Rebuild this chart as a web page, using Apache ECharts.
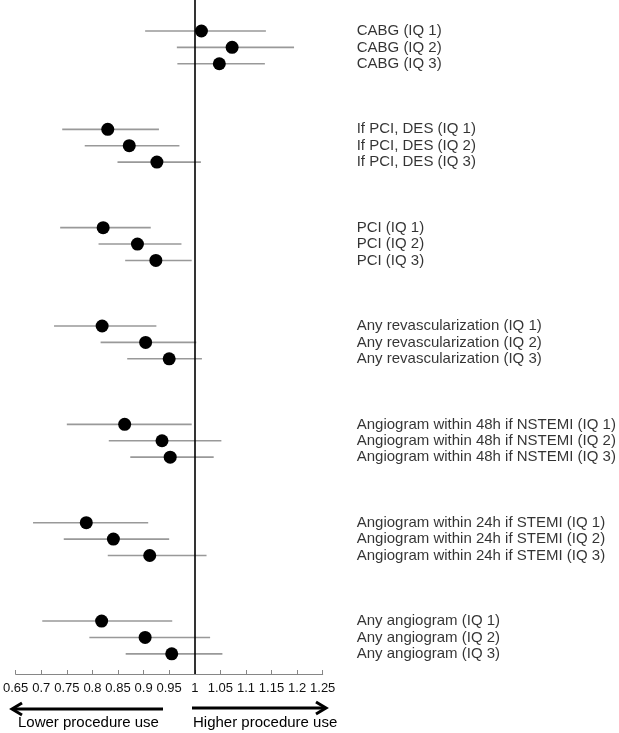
<!DOCTYPE html>
<html>
<head>
<meta charset="utf-8">
<script src="https://cdn.jsdelivr.net/npm/echarts@6/dist/echarts.min.js"></script>
<style>
  html, body { margin: 0; padding: 0; background: #fff; }
  #chart { width: 619px; height: 733px; }
</style>
</head>
<body>
<div id="chart"></div>
<script>
const categories = [
  'CABG (IQ 1)', 'CABG (IQ 2)', 'CABG (IQ 3)',
  'If PCI, DES (IQ 1)', 'If PCI, DES (IQ 2)', 'If PCI, DES (IQ 3)',
  'PCI (IQ 1)', 'PCI (IQ 2)', 'PCI (IQ 3)',
  'Any revascularization (IQ 1)', 'Any revascularization (IQ 2)', 'Any revascularization (IQ 3)',
  'Angiogram within 48h if NSTEMI (IQ 1)', 'Angiogram within 48h if NSTEMI (IQ 2)', 'Angiogram within 48h if NSTEMI (IQ 3)',
  'Angiogram within 24h if STEMI (IQ 1)', 'Angiogram within 24h if STEMI (IQ 2)', 'Angiogram within 24h if STEMI (IQ 3)',
  'Any angiogram (IQ 1)', 'Any angiogram (IQ 2)', 'Any angiogram (IQ 3)'
];
const estimates = [
  1.013, 1.073, 1.048,
  0.830, 0.872, 0.926,
  0.821, 0.888, 0.924,
  0.819, 0.904, 0.950,
  0.863, 0.936, 0.952,
  0.788, 0.841, 0.912,
  0.818, 0.903, 0.955
];
const lower = [
  0.903, 0.965, 0.966,
  0.741, 0.785, 0.849,
  0.737, 0.812, 0.864,
  0.725, 0.816, 0.868,
  0.750, 0.832, 0.874,
  0.684, 0.744, 0.830,
  0.702, 0.794, 0.865
];
const upper = [
  1.139, 1.194, 1.137,
  0.930, 0.970, 1.012,
  0.914, 0.974, 0.994,
  0.925, 1.003, 1.014,
  0.994, 1.052, 1.037,
  0.909, 0.950, 1.023,
  0.956, 1.030, 1.054
];
const xMin = 0.65, xMax = 1.25, xStep = 0.05;
const referenceValue = 1;
const arrowLabels = ['Lower procedure use', 'Higher procedure use'];

const FONT = 'Liberation Sans';
// each group of 3 rows is followed by 3 empty slots
const slot = i => Math.floor(i / 3) * 6 + (i % 3);

const chart = echarts.init(document.getElementById('chart'));
chart.setOption({
  animation: false,
  grid: { left: 12.3, right: 296.3, top: 0, bottom: 59, containLabel: false },
  xAxis: {
    type: 'value', min: xMin, max: xMax, interval: xStep, position: 'bottom',
    axisLine: { show: true, onZero: false, lineStyle: { color: '#868686', width: 1 } },
    axisTick: { show: true, inside: true, length: 4, lineStyle: { color: '#868686' } },
    axisLabel: { color: '#111', fontFamily: FONT, fontSize: 13, margin: 8, showMinLabel: true, showMaxLabel: true },
    splitLine: { show: false }
  },
  yAxis: {
    type: 'value', inverse: true, min: -1.89, max: 39.23,
    show: false, splitLine: { show: false }
  },
  series: [
    {
      type: 'custom',
      data: estimates.map((_, i) => [lower[i], upper[i], slot(i)]),
      encode: { x: [0, 1], y: 2 },
      renderItem: (params, api) => {
        const p1 = api.coord([api.value(0), api.value(2)]);
        const p2 = api.coord([api.value(1), api.value(2)]);
        return {
          type: 'line',
          shape: { x1: p1[0], y1: p1[1], x2: p2[0], y2: p2[1] },
          style: { stroke: '#999', lineWidth: 1.6 }
        };
      },
      z: 2
    },
    {
      type: 'scatter',
      data: estimates.map((v, i) => [v, slot(i)]),
      symbol: 'circle', symbolSize: 13,
      itemStyle: { color: '#000', opacity: 1 },
      z: 4,
      markLine: {
        silent: true, symbol: 'none',
        label: { show: false },
        lineStyle: { color: '#000', width: 1.6, type: 'solid', opacity: 1 },
        data: [{ xAxis: referenceValue }]
      }
    },
    {
      type: 'scatter',
      data: categories.map((c, i) => ({ value: [xMax, slot(i)], name: c })),
      symbolSize: 0,
      silent: true,
      label: {
        show: true, position: 'right', distance: 34, formatter: '{b}',
        color: '#000', fontFamily: FONT, fontSize: 15
      }
    }
  ],
  graphic: [
    { type: 'line', shape: { x1: 13, y1: 709, x2: 163, y2: 709 }, style: { stroke: '#000', lineWidth: 3 } },
    { type: 'polyline', shape: { points: [[22, 703], [12, 709], [22, 715]] }, style: { stroke: '#000', lineWidth: 3, fill: null } },
    { type: 'line', shape: { x1: 192, y1: 708, x2: 325, y2: 708 }, style: { stroke: '#000', lineWidth: 3 } },
    { type: 'polyline', shape: { points: [[316, 702], [326, 708], [316, 714]] }, style: { stroke: '#000', lineWidth: 3, fill: null } },
    { type: 'text', x: 18, y: 723, style: { text: arrowLabels[0], fill: '#000', font: '15px "' + FONT + '"', textVerticalAlign: 'middle' } },
    { type: 'text', x: 193, y: 723, style: { text: arrowLabels[1], fill: '#000', font: '15px "' + FONT + '"', textVerticalAlign: 'middle' } }
  ]
});
</script>
</body>
</html>
